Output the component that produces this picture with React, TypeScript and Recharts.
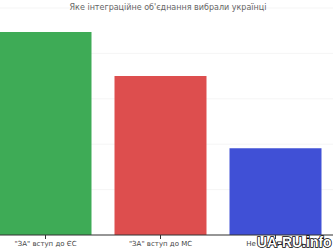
import React from "react";
import { BarChart, Bar, XAxis, YAxis, CartesianGrid, Cell } from "recharts";

const categories = ['"ЗА" вступ до ЄС', '"ЗА" вступ до МС', "Не визначились"];
const values = [44.7, 35.0, 19.1];
const colors = ["#3eab56", "#dd4e4e", "#4050d6"];
const yTicks = [0, 10, 20, 30, 40, 50];
const title = "Яке інтеграційне об'єднання вибрали українці";

const data = categories.map((c, i) => ({ name: c, value: values[i] }));

export default function App() {
  return (
    <div style={{ position: "absolute", left: 0, top: 0, width: 336, height: 252, background: "#fff", overflow: "hidden" }}>
      <BarChart
        width={336}
        height={252}
        data={data}
        margin={{ top: 8, right: 3, left: -12, bottom: 0 }}
        barCategoryGap="10%"
      >
        <CartesianGrid vertical={false} stroke="#f5f5f5" />
        <YAxis hide domain={[0, 50]} ticks={yTicks} />
        <XAxis
          dataKey="name"
          height={17}
          axisLine={{ stroke: "#333" }}
          tickLine={{ stroke: "#333" }}
          tickSize={4}
          tick={{ fill: "#444", fontSize: 7, fontFamily: "DejaVu Sans" }}
          interval={0}
        />
        <Bar dataKey="value" isAnimationActive={false}>
          {data.map((d, i) => (
            <Cell key={d.name} fill={colors[i]} />
          ))}
        </Bar>
      </BarChart>
      <div
        style={{
          position: "absolute",
          left: 0,
          top: 3,
          width: 336,
          textAlign: "center",
          fontFamily: "DejaVu Sans",
          fontSize: 8,
          color: "#666",
        }}
      >
        {title}
      </div>
      <div
        style={{
          position: "absolute",
          left: 257,
          top: 234,
          fontFamily: "Liberation Sans",
          fontWeight: "bold",
          fontSize: 14,
          color: "#fff",
          WebkitTextStroke: "1.5px #000",
          paintOrder: "stroke fill",
          lineHeight: "16px",
        }}
      >
        UA-RU.info
      </div>
    </div>
  );
}
